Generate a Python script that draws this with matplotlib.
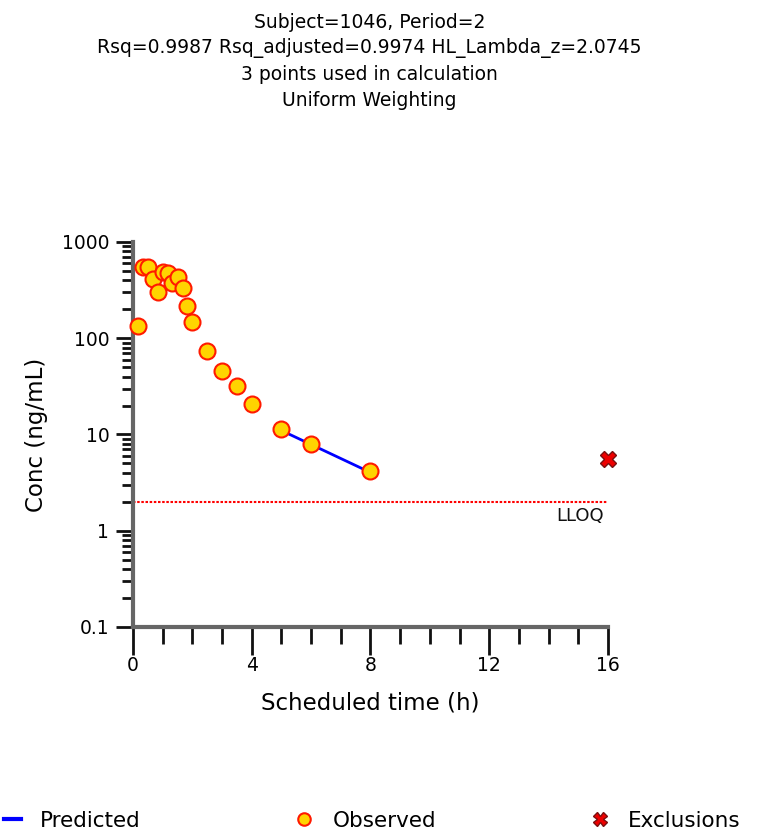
import numpy as np
import matplotlib
matplotlib.use("Agg")
import matplotlib.pyplot as plt
from matplotlib.lines import Line2D
from matplotlib.ticker import LogLocator, FixedLocator, NullFormatter

# observed concentrations
obs_t = [0.167, 0.33, 0.5, 0.67, 0.83, 1.0, 1.17, 1.33, 1.5, 1.67, 1.83, 2.0,
         2.5, 3.0, 3.5, 4.0, 5.0, 6.0, 8.0]
obs_c = [134, 550, 550, 413, 303, 488, 476, 375, 433, 333, 216, 148,
         74, 46, 32, 20.7, 11.4, 8.0, 4.17]

# excluded points
exc_t = [16.0]
exc_c = [5.6]

# predicted terminal phase
pred_t = [5.0, 8.0]
pred_c = [11.0, 4.03]

lloq = 2.0

title_lines = ["Subject=1046, Period=2",
               "Rsq=0.9987 Rsq_adjusted=0.9974 HL_Lambda_z=2.0745",
               "3 points used in calculation",
               "Uniform Weighting"]

plt.rcParams['font.family'] = ['DejaVu Sans']

fig = plt.figure(figsize=(7.59, 8.33), dpi=100)
ax = fig.add_axes([0.1752, 0.2473, 0.6258, 0.4622])

ax.plot(pred_t, pred_c, color="#0000ff", lw=2, zorder=3)
ax.plot(obs_t, obs_c, 'o', ms=11.5, mfc="#ffd400", mec="#ff1a00", mew=1.5,
        zorder=4, clip_on=False)
ax.plot(exc_t, exc_c, 'X', ms=12, mfc="#ee0000", mec="#7a1010", mew=1,
        zorder=4, clip_on=False)
ax.plot([0, 16], [lloq, lloq], color="#ff0000", lw=1.5, ls=(0, (1.2, 0.8)), zorder=2)
ax.text(15.85, 1.42, "LLOQ", ha="right", va="center", fontsize=13, color="#111111")

ax.set_yscale("log")
ax.set_xlim(0, 16)
ax.set_ylim(0.1, 1000)
ax.set_yticks([0.1, 1, 10, 100, 1000])
ax.set_yticklabels(["0.1", "1", "10", "100", "1000"])
ax.yaxis.set_minor_locator(LogLocator(base=10, subs=np.arange(2, 10)))
ax.yaxis.set_minor_formatter(NullFormatter())
ax.set_xticks([0, 4, 8, 12, 16])
ax.xaxis.set_minor_locator(FixedLocator(np.arange(0, 17, 1)))

for s in ["top", "right"]:
    ax.spines[s].set_visible(False)
for s in ["left", "bottom"]:
    ax.spines[s].set_linewidth(3)
    ax.spines[s].set_color("#666666")

ax.tick_params(axis="y", which="major", length=12, width=2, color="#111111",
               labelsize=13.5, pad=5)
ax.tick_params(axis="y", which="minor", length=8, width=2, color="#111111")
ax.tick_params(axis="x", which="major", length=20, width=2, color="#111111",
               labelsize=13.5, pad=1)
ax.tick_params(axis="x", which="minor", length=12, width=2, color="#111111")

ax.set_xlabel("Scheduled time (h)", fontsize=16.5, labelpad=12)
ax.set_ylabel("Conc (ng/mL)", fontsize=16.5, labelpad=10)

for i, line in enumerate(title_lines):
    fig.text(0.487, 1 - (22 + 26 * i) / 833, line, ha="center", va="center",
             fontsize=13.5)

handles = [Line2D([], [], color="#0000ff", lw=3),
           Line2D([], [], ls="none", marker="o", ms=9, mfc="#ffd400", mec="#ff1a00", mew=1.5),
           Line2D([], [], ls="none", marker="X", ms=10, mfc="#ee0000", mec="#7a1010", mew=1)]
fig.legend(handles, ["Predicted", "Observed", "Exclusions"], loc="center",
           bbox_to_anchor=(0.49, 0.015), ncol=3, frameon=False, fontsize=15.5,
           handlelength=0.8, handletextpad=0.9, columnspacing=7.2)

fig.savefig("out.png", dpi=100)
